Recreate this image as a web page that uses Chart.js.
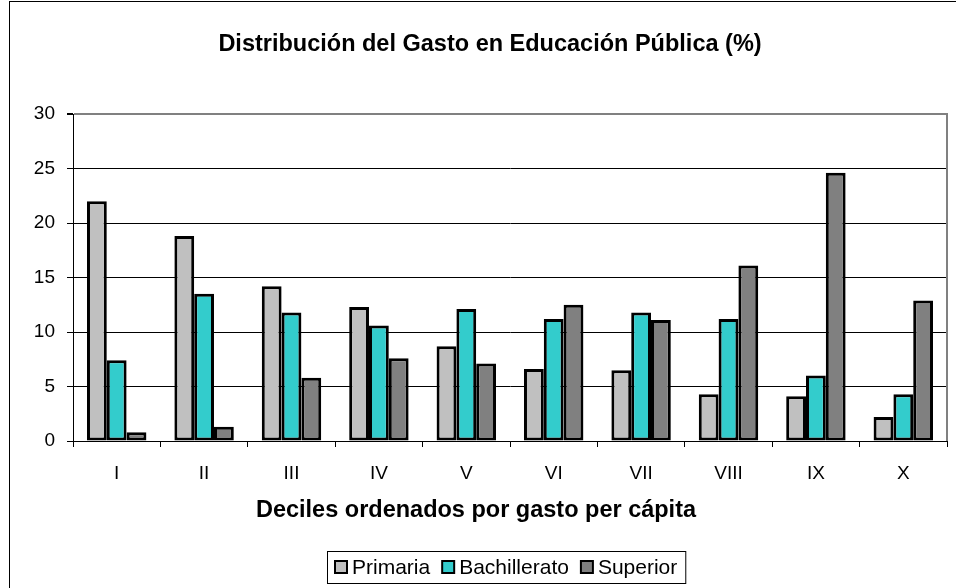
<!DOCTYPE html>
<html>
<head>
<meta charset="utf-8">
<script src="https://cdn.jsdelivr.net/npm/chart.js@4.4.1/dist/chart.umd.min.js"></script>
<style>
  html, body { margin: 0; padding: 0; background: #fff; }
  #wrap { width: 956px; height: 588px; position: relative; }
</style>
</head>
<body>
<div id="wrap"><canvas id="myChart" width="956" height="588"></canvas></div>
<script>
var categories = ["I", "II", "III", "IV", "V", "VI", "VII", "VIII", "IX", "X"];
var primaria = [22.0, 18.8, 14.2, 12.3, 8.7, 6.6, 6.5, 4.3, 4.1, 2.2];
var bachillerato = [7.4, 13.5, 11.8, 10.6, 12.1, 11.2, 11.8, 11.2, 6.0, 4.3];
var superior = [0.8, 1.3, 5.8, 7.6, 7.1, 12.5, 11.1, 16.1, 24.6, 12.9];
var yTicks = [0, 5, 10, 15, 20, 25, 30];

var chartTitle = "Distribución del Gasto en Educación Pública (%)";
var xTitle = "Deciles ordenados por gasto per cápita";
var FONT = "'Liberation Sans', Arial, sans-serif";

// titles, frame and boxed legend drawn by hand to sit where the original has them
var decor = {
  id: "decor",
  beforeDraw: function (chart) {
    var c = chart.ctx;
    c.save();
    c.fillStyle = "#fff";
    c.fillRect(0, 0, chart.width, chart.height);
    c.restore();
  },
  afterDraw: function (chart) {
    var c = chart.ctx;
    var a = chart.chartArea;
    c.save();
    // outer frame
    c.strokeStyle = "#000";
    c.lineWidth = 1;
    c.strokeRect(9.5, 1.5, chart.width, chart.height);
    // right plot border
    c.strokeStyle = "#808080";
    c.lineWidth = 2;
    c.beginPath();
    c.moveTo(a.right, a.top - 1);
    c.lineTo(a.right, a.bottom);
    c.stroke();

    c.fillStyle = "#000";
    c.textAlign = "center";
    c.textBaseline = "middle";
    c.font = "bold 23.5px " + FONT;
    c.fillText(chartTitle, 490, 45);
    c.font = "bold 23.5px " + FONT;
    c.fillText(xTitle, 476, 511);

    // legend
    c.font = "21px " + FONT;
    var items = chart.data.datasets;
    var box = 12, gapText = 5, gapItem = 12, padX = 8;
    var total = 0;
    items.forEach(function (d, i) {
      total += box + gapText + c.measureText(d.label).width + (i < items.length - 1 ? gapItem : 0);
    });
    var cx = 506;
    var left = Math.round(cx - total / 2 - padX);
    c.strokeStyle = "#000";
    c.lineWidth = 1;
    c.strokeRect(left + 0.5, 551.5, total + padX * 2, 32);
    var x = left + padX;
    c.textAlign = "left";
    items.forEach(function (d) {
      c.fillStyle = d.backgroundColor;
      c.fillRect(x, 561, box, box);
      c.lineWidth = 2;
      c.strokeRect(x, 561, box, box);
      c.fillStyle = "#000";
      c.fillText(d.label, x + box + gapText, 568);
      x += box + gapText + c.measureText(d.label).width + gapItem;
    });
    c.restore();
  }
};

var data = {
  labels: categories,
  datasets: [
    {
      label: "Primaria",
      data: primaria,
      backgroundColor: "#c0c0c0",
      borderColor: "#000",
      borderWidth: 3,
    },
    {
      label: "Bachillerato",
      data: bachillerato,
      backgroundColor: "#33cccc",
      borderColor: "#000",
      borderWidth: 3,
    },
    {
      label: "Superior",
      data: superior,
      backgroundColor: "#808080",
      borderColor: "#000",
      borderWidth: 3,
    },
  ],
};

var options = {
  responsive: false,
  animation: false,
  layout: { padding: { top: 114, left: 0, right: 9, bottom: 0 } },
  datasets: {
    bar: { categoryPercentage: 0.68, barPercentage: 1.0, borderSkipped: false },
  },
  scales: {
    x: {
      grid: {
        display: true,
        drawOnChartArea: false,
        offset: true,
        color: "#000",
        tickLength: 6,
      },
      border: { display: true, color: "#000", width: 1 },
      ticks: { color: "#000", font: { family: FONT, size: 19 }, padding: 15 },
      afterFit: function (s) { s.height = 147; },
    },
    y: {
      min: 0,
      max: 30,
      afterBuildTicks: function (s) {
        s.ticks = yTicks.map(function (v) { return { value: v }; });
      },
      grid: {
        color: function (ctx) { return ctx.tick && ctx.tick.value === 30 ? "#808080" : "#000"; },
        lineWidth: function (ctx) { return ctx.tick && ctx.tick.value === 30 ? 2 : 1; },
        tickColor: "#000",
        tickLength: 6,
      },
      border: { display: true, color: "#000", width: 1 },
      ticks: { color: "#000", font: { family: FONT, size: 19 }, padding: 12 },
      afterFit: function (s) { s.width = 73; },
    },
  },
  plugins: {
    legend: { display: false },
    title: { display: false },
    tooltip: { enabled: false },
  },
};

var ctx = document.getElementById("myChart").getContext("2d");
var myChart = new Chart(ctx, {
  type: "bar",
  data: data,
  options: options,
  plugins: [decor],
});
</script>
</body>
</html>
